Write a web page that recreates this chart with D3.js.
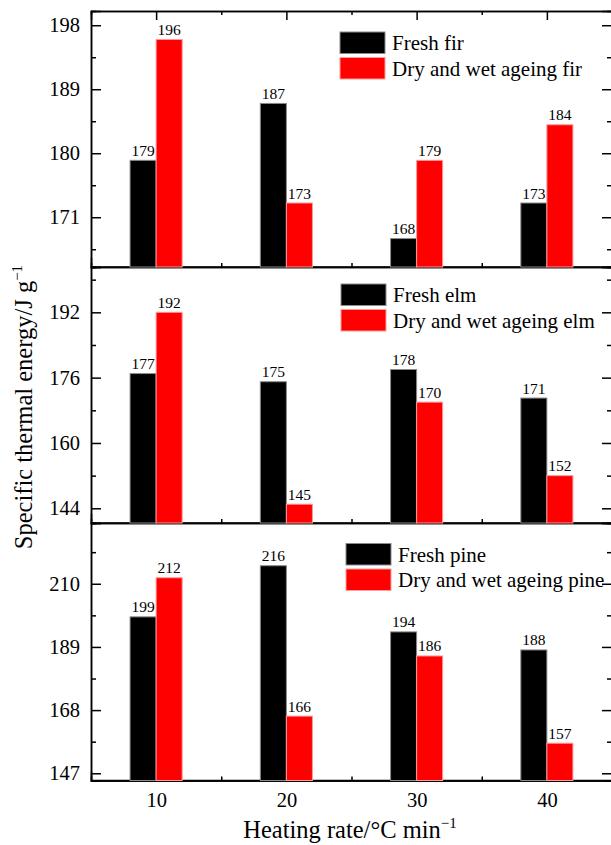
<!DOCTYPE html>
<html>
<head>
<meta charset="utf-8">
<script src="https://cdn.jsdelivr.net/npm/d3@7"></script>
<style>
  html, body { margin: 0; padding: 0; background: #fff; }
  svg { display: block; }
  svg text { font-family: "Liberation Serif", "Times New Roman", Times, serif; fill: #000; }
</style>
</head>
<body>
<svg id="chart" width="611" height="845" font-family="Liberation Serif, Times New Roman, serif"></svg>
<script>
// Heating rates (°C/min) on the shared x axis
const heatingRates = [10, 20, 30, 40];
const midTicks = [15, 25, 35];

// Specific thermal energy (J/g) per wood species
const firFresh = [179, 187, 168, 173];
const firAged  = [196, 173, 179, 184];
const elmFresh = [177, 175, 178, 171];
const elmAged  = [192, 145, 170, 152];
const pineFresh = [199, 216, 194, 188];
const pineAged  = [212, 166, 186, 157];

// Y tick values for each panel
const firTicks = [171, 180, 189, 198];
const firMinor = [166.5, 175.5, 184.5, 193.5];
const elmTicks = [144, 160, 176, 192];
const elmMinor = [152, 168, 184, 200];
const pineTicks = [147, 168, 189, 210];
const pineMinor = [157.5, 178.5, 199.5, 220.5];

// Legend labels
const firNames = ["Fresh fir", "Dry and wet ageing fir"];
const elmNames = ["Fresh elm", "Dry and wet ageing elm"];
const pineNames = ["Fresh pine", "Dry and wet ageing pine"];

const panels = [
  { fresh: firFresh, aged: firAged, ticks: firTicks, minor: firMinor, names: firNames,
    domain: [164, 200], top: 11, bottom: 267, legend: { x: 340, y: 32 } },
  { fresh: elmFresh, aged: elmAged, ticks: elmTicks, minor: elmMinor, names: elmNames,
    domain: [140.4, 203.1], top: 267, bottom: 523, legend: { x: 341, y: 284 } },
  { fresh: pineFresh, aged: pineAged, ticks: pineTicks, minor: pineMinor, names: pineNames,
    domain: [144.6, 230.2], top: 523, bottom: 780.5, legend: { x: 346, y: 543.5 } }
];

const FONT = "Liberation Serif, Times New Roman, serif";
const svg = d3.select("#chart");
const left = 91, right = 612;
const x = d3.scaleLinear().domain([5, 45]).range([left, right]);
const halfBar = 2; // bar width in x units

const FRESH = "#000000", AGED = "#ff0000";

function styleAxis(g) {
  g.attr("font-family", FONT);
  g.select(".domain").attr("stroke", "#000").attr("stroke-width", 1.5);
  g.selectAll(".tick line").attr("stroke", "#000").attr("stroke-width", 1.5);
  g.selectAll(".tick text").attr("font-family", FONT).attr("font-size", 20.5);
}

panels.forEach((p, i) => {
  const y = d3.scaleLinear().domain(p.domain).range([p.bottom, p.top]);
  const isLast = i === panels.length - 1;

  // Left axis: major ticks with labels, minor ticks without
  svg.append("g").attr("transform", `translate(${left},0)`)
    .call(d3.axisLeft(y).tickValues(p.ticks).tickSize(-10).tickPadding(11))
    .call(styleAxis);
  svg.append("g").attr("transform", `translate(${left},0)`)
    .call(d3.axisLeft(y).tickValues(p.minor).tickSize(-5).tickFormat(""))
    .call(styleAxis);

  // Right axis mirror ticks
  svg.append("g").attr("transform", `translate(${right},0)`)
    .call(d3.axisRight(y).tickValues(p.ticks).tickSize(-10).tickFormat(""))
    .call(styleAxis);
  svg.append("g").attr("transform", `translate(${right},0)`)
    .call(d3.axisRight(y).tickValues(p.minor).tickSize(-5).tickFormat(""))
    .call(styleAxis);

  // Bottom axis of this panel
  svg.append("g").attr("transform", `translate(0,${p.bottom})`)
    .call(d3.axisBottom(x).tickValues(heatingRates).tickSize(-9).tickPadding(12)
      .tickFormat(isLast ? d3.format("d") : ""))
    .call(styleAxis);
  svg.append("g").attr("transform", `translate(0,${p.bottom})`)
    .call(d3.axisBottom(x).tickValues(midTicks).tickSize(-4).tickFormat(""))
    .call(styleAxis);

  // Top axis only on the uppermost panel
  if (i === 0) {
    svg.append("g").attr("transform", `translate(0,${p.top})`)
      .call(d3.axisTop(x).tickValues(heatingRates).tickSize(-9).tickFormat(""))
      .call(styleAxis);
    svg.append("g").attr("transform", `translate(0,${p.top})`)
      .call(d3.axisTop(x).tickValues(midTicks).tickSize(-4).tickFormat(""))
      .call(styleAxis);
  }

  // Bars: fresh to the left of each heating rate, aged to the right
  const rows = heatingRates.map((r, k) => ({ r, fresh: p.fresh[k], aged: p.aged[k] }));
  const bars = svg.append("g").attr("font-family", FONT);
  bars.selectAll(".fresh").data(rows).join("rect")
    .attr("x", d => x(d.r - halfBar))
    .attr("width", d => x(d.r) - x(d.r - halfBar))
    .attr("y", d => y(d.fresh))
    .attr("height", d => p.bottom - y(d.fresh))
    .attr("fill", FRESH).attr("stroke", "#8a8a8a").attr("stroke-width", 1);
  bars.selectAll(".aged").data(rows).join("rect")
    .attr("x", d => x(d.r))
    .attr("width", d => x(d.r + halfBar) - x(d.r))
    .attr("y", d => y(d.aged))
    .attr("height", d => p.bottom - y(d.aged))
    .attr("fill", AGED).attr("stroke", "#ff9a9a").attr("stroke-width", 1);

  // Value labels above bars
  bars.selectAll(".lf").data(rows).join("text")
    .attr("x", d => x(d.r - halfBar / 2)).attr("y", d => y(d.fresh) - 4.5)
    .attr("text-anchor", "middle").attr("font-size", 15.5).attr("font-family", FONT)
    .text(d => d.fresh);
  bars.selectAll(".la").data(rows).join("text")
    .attr("x", d => x(d.r + halfBar / 2)).attr("y", d => y(d.aged) - 4.5)
    .attr("text-anchor", "middle").attr("font-size", 15.5).attr("font-family", FONT)
    .text(d => d.aged);

  // Legend
  const lg = svg.append("g").attr("transform", `translate(${p.legend.x},${p.legend.y})`);
  [FRESH, AGED].forEach((c, k) => {
    lg.append("rect").attr("x", 0).attr("y", k * 25.5).attr("width", 45).attr("height", 21.5)
      .attr("fill", c).attr("stroke", k ? "#ff9a9a" : "#8a8a8a").attr("stroke-width", 1);
    lg.append("text").attr("x", 52).attr("y", k * 25.5 + 18)
      .attr("font-size", 21).attr("font-family", FONT).text(p.names[k]);
  });

  // Panel separator / bottom frame line
  svg.append("line").attr("x1", left).attr("x2", right).attr("y1", p.bottom).attr("y2", p.bottom)
    .attr("stroke", "#000").attr("stroke-width", 1.5).lower();
});

// Axis titles
const yTitle = svg.append("text")
  .attr("transform", "translate(32,407) rotate(-90)")
  .attr("text-anchor", "middle").attr("font-size", 24.5).attr("font-family", FONT);
yTitle.append("tspan").text("Specific thermal energy/J g");
yTitle.append("tspan").attr("font-size", 15).attr("dy", -10).text("−1");

const xTitle = svg.append("text")
  .attr("x", 350).attr("y", 838)
  .attr("text-anchor", "middle").attr("font-size", 24.5).attr("font-family", FONT);
xTitle.append("tspan").text("Heating rate/°C min");
xTitle.append("tspan").attr("font-size", 15).attr("dy", -10).text("−1");
</script>
</body>
</html>
